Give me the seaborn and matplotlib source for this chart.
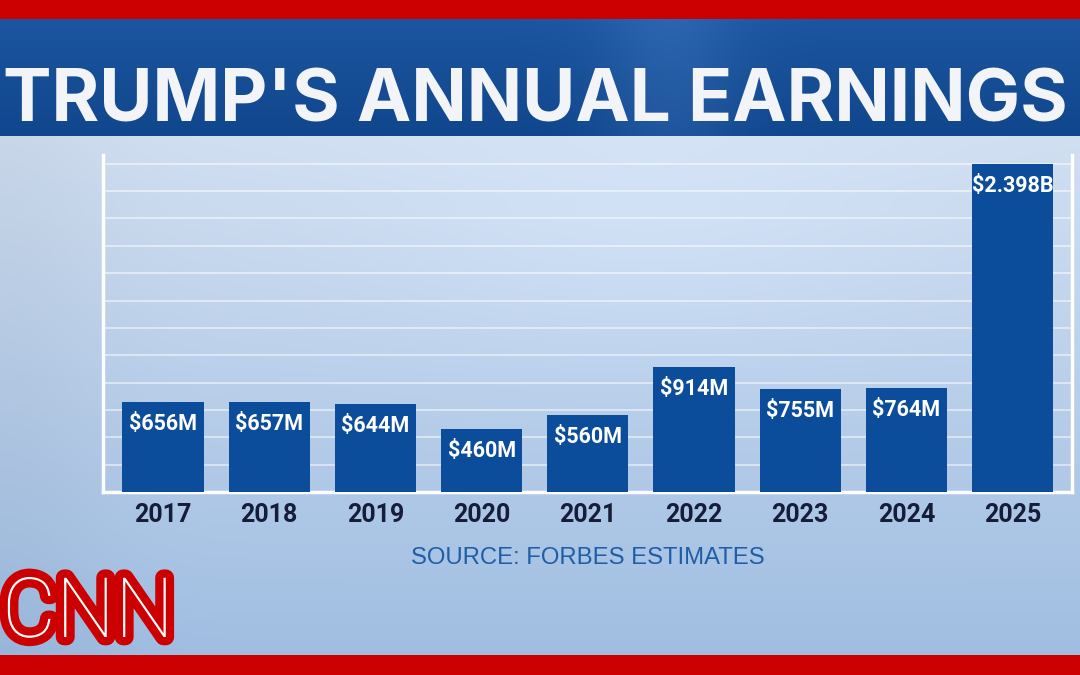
import numpy as np
import seaborn as sns
import matplotlib.pyplot as plt
import matplotlib.patheffects as pe

# data (earnings in millions of dollars, Forbes estimates)
years = ['2017', '2018', '2019', '2020', '2021', '2022', '2023', '2024', '2025']
earnings = [656, 657, 644, 460, 560, 914, 755, 764, 2398]
bar_labels = ['$656M', '$657M', '$644M', '$460M', '$560M',
              '$914M', '$755M', '$764M', '$2.398B']
grid_ticks = list(range(200, 2401, 200))

W, H = 1080, 675
RED = '#cc0000'
BAR = '#0b4c9b'
COND = ['Roboto', 'DejaVu Sans']

sns.set_style('white')
fig = plt.figure(figsize=(W / 100, H / 100), dpi=100)

# background: light blue studio look, banner and red strips
bg = fig.add_axes([0, 0, 1, 1])
yy = np.arange(H)[:, None] / H
xx = np.arange(W)[None, :] / W
t = np.clip((yy * H - 136) / (655 - 136), 0, 1)
top = np.array([208, 222, 240]) / 255
bot = np.array([160, 190, 226]) / 255
img = top * (1 - t[..., None]) + bot * t[..., None]
glow = 0.03 * np.exp(-((xx - 0.6) ** 2 / 0.08 + (yy - 0.35) ** 2 / 0.04))
edge = -0.03 * np.exp(-(xx ** 2) / 0.01)
img = np.clip(img + glow[..., None] + edge[..., None], 0, 1)
tb = (np.arange(19, 136)[:, None] - 19) / (136 - 19)
b_top = np.array([28, 86, 160]) / 255
b_bot = np.array([16, 70, 140]) / 255
band = b_top * (1 - tb[..., None]) + b_bot * tb[..., None]
sheen = 0.06 * np.exp(-((xx - 0.62) ** 2 / 0.004))
img[19:136] = np.clip(band + sheen[..., None], 0, 1)
img[0:19] = np.array([204, 0, 0]) / 255
img[655:] = np.array([204, 0, 0]) / 255
bg.imshow(img, extent=[0, W, H, 0], aspect='auto', interpolation='bilinear')
bg.set_xlim(0, W)
bg.set_ylim(H, 0)
bg.axis('off')

# chart
ax = fig.add_axes([103 / W, 1 - 492 / H, (1072 - 103) / W, (492 - 155) / H])
ax.patch.set_alpha(0)
sns.barplot(x=years, y=earnings, color=BAR, saturation=1, width=0.765,
            ax=ax, zorder=3, edgecolor='none', linewidth=0)
ax.set_xlim(-0.565, 8.56)
ax.set_ylim(0, 2464)
ax.set_yticks(grid_ticks)
ax.yaxis.grid(True, color='white', alpha=0.55, linewidth=1.3)
ax.set_axisbelow(True)
ax.tick_params(axis='y', length=0, labelleft=False)
ax.tick_params(axis='x', length=0, pad=8)
ax.set_xlabel('')
ax.set_ylabel('')
ax.spines['top'].set_visible(False)
for s in ['left', 'right', 'bottom']:
    ax.spines[s].set_color('white')
    ax.spines[s].set_linewidth(2.5)
for lab in ax.get_xticklabels():
    lab.set_fontsize(18)
    lab.set_fontweight('bold')
    lab.set_color('#151d38')
    lab.set_family(COND)

for i, (v, lab) in enumerate(zip(earnings, bar_labels)):
    ax.annotate(lab, (i, v), xytext=(0, -22), textcoords='offset pixels',
                ha='center', va='center', color='white', fontsize=15.5,
                fontweight='bold', family=COND, zorder=4)

fig.text(587.5 / W, 1 - 558 / H, 'SOURCE: FORBES ESTIMATES', ha='center',
         va='center', color='#1d5ea6', fontsize=17.2, family='Liberation Sans')

# title banner
title = fig.text(3 / W, 1 - 122 / H, "TRUMP'S ANNUAL EARNINGS", ha='left',
                 va='baseline', color='#f2f4f7', fontweight='bold',
                 family=['Inter', 'DejaVu Sans'], fontsize=54)

# logo
logo = fig.text(2 / W, 1 - 637 / H, 'CNN', ha='left', va='baseline',
                color='white', fontsize=80, fontweight='light', family=COND,
                path_effects=[pe.Stroke(linewidth=12, foreground=RED),
                              pe.Normal()])

fig.canvas.draw()
r = fig.canvas.get_renderer()
bb = title.get_window_extent(r)
title.set_fontsize(54 * 1067 / bb.width)
bb = logo.get_window_extent(r)
logo.set_fontsize(80 * 172 / bb.width)

fig.savefig('out.png', dpi=100)
